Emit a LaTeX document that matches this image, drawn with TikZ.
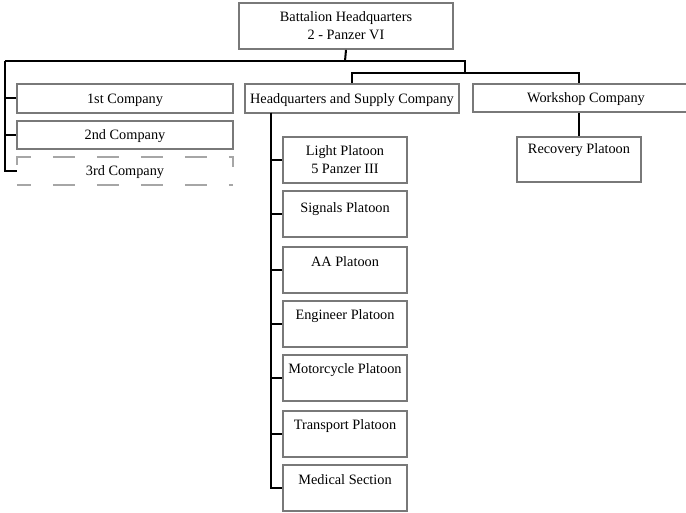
\documentclass[tikz,border=0pt]{standalone}
\usepackage{fontspec}
\setmainfont{Liberation Serif}
\begin{document}
\begin{tikzpicture}[x=1pt,y=-1pt,
  every node/.style={font=\fontsize{14.3}{18}\selectfont},
  box/.style={draw=gray!95!black, line width=1.8pt, rectangle, inner sep=0pt, align=center},
  one/.style={text height=13pt, text depth=3pt},
  dbox/.style={draw=none, rectangle, inner sep=0pt, align=center},
  dline/.style={draw=gray!70, line width=1.8pt, dash pattern=on 22pt off 22pt},
  conn/.style={draw=black, line width=2pt},
  lab/.style={anchor=center, inner sep=0pt}]
\useasboundingbox (0,0) rectangle (686,513);
% boxes
\node[box, minimum width=214, minimum height=46] (hq) at (346,26) {Battalion Headquarters\\2 - Panzer VI};
\node[box, one, minimum width=216, minimum height=29] (c1) at (125,98.5) {1st Company};
\node[box, one, minimum width=216, minimum height=28] (c2) at (125,135) {2nd Company};
\node[dbox, one, minimum width=216, minimum height=28] (c3) at (125,171) {3rd Company};
\draw[dline] ([yshift=-8pt]c3.north west) -- (c3.north west) -- (c3.north east) -- ([yshift=-10pt]c3.north east);
\draw[dline, dash phase=8pt] (c3.south west) -- (c3.south east);
\node[box, one, minimum width=214, minimum height=29] (hqs) at (352,98.5) {Headquarters and Supply Company};
\node[box, one, minimum width=226, minimum height=28] (ws) at (586,98) {Workshop Company};
\node[box, minimum width=124, minimum height=45, label={[lab, yshift=-14pt]north:Recovery Platoon}] (rec) at (579,159.5) {};
\node[box, minimum width=124, minimum height=46] (light) at (345,160) {Light Platoon\\5 Panzer III};
\node[box, minimum width=124, minimum height=46, label={[lab, yshift=-18.5pt]north:Signals Platoon}] (sig) at (345,214) {};
\node[box, minimum width=124, minimum height=46, label={[lab, yshift=-15.5pt]north:AA Platoon}] (aa) at (345,270) {};
\node[box, minimum width=124, minimum height=46, label={[lab, yshift=-15.5pt]north:Engineer Platoon}] (eng) at (345,324) {};
\node[box, minimum width=124, minimum height=46, label={[lab, yshift=-15.5pt]north:Motorcycle Platoon}] (moto) at (345,378) {};
\node[box, minimum width=124, minimum height=46, label={[lab, yshift=-15.5pt]north:Transport Platoon}] (trans) at (345,434) {};
\node[box, minimum width=124, minimum height=46, label={[lab, yshift=-15.5pt]north:Medical Section}] (med) at (345,488) {};
% junctions
\coordinate (b0) at (345,61);
\coordinate (bl) at (5,61);
\coordinate (br) at (465,61);
\coordinate (s2) at (465,73);
\coordinate (v0) at (271,113);
% connectors
\draw[conn] (hq.south) -- (b0);
\draw[conn] (bl) -- (br) -- (s2);
\draw[conn] (bl) |- (c1.west);
\draw[conn] (bl) |- (c2.west);
\draw[conn] (bl) |- (c3.west);
\draw[conn] (hqs.north) |- (s2);
\draw[conn] (rec.north |- ws.north) |- (s2);
\draw[conn] (rec.north |- ws.south) -- (rec.north);
\foreach \n in {light,sig,aa,eng,moto,trans,med} {
  \draw[conn] (v0) |- (\n.west);
}
\end{tikzpicture}
\end{document}
